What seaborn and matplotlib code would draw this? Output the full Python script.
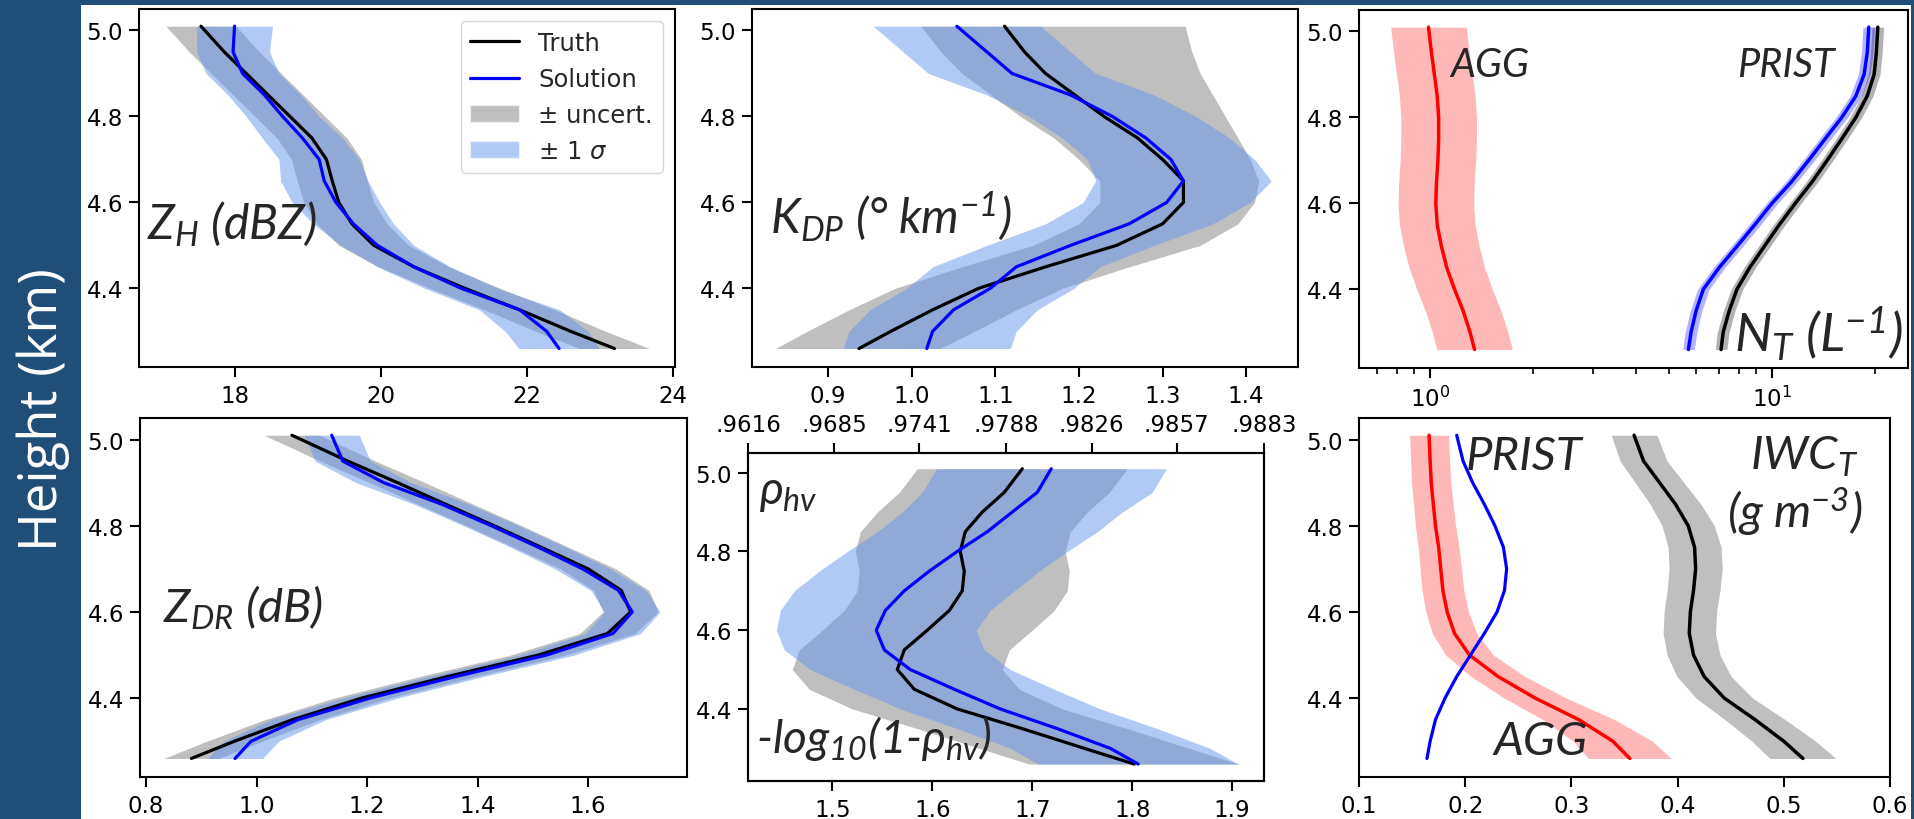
import numpy as np
import seaborn as sns
import matplotlib.pyplot as plt
from matplotlib.patches import Rectangle, Patch
from matplotlib.lines import Line2D
from matplotlib.ticker import NullFormatter

# height levels (km) shared by every profile
HEIGHT = [4.26, 4.30, 4.35, 4.40, 4.45, 4.50, 4.55, 4.60,
          4.65, 4.70, 4.75, 4.80, 4.85, 4.90, 4.95, 5.01]

# Z_H (dBZ)
ZH_TRUTH = [23.2, 22.6, 21.9, 21.15, 20.45, 19.9, 19.6, 19.42,
            19.33, 19.25, 19.05, 18.75, 18.45, 18.15, 17.85, 17.53]
ZH_SOL = [22.44, 22.27, 21.9, 21.1, 20.45, 19.95, 19.62, 19.38,
          19.22, 19.15, 18.92, 18.65, 18.4, 18.1, 17.97, 17.99]
ZH_SIGMA = [0.55, 0.57, 0.55, 0.5, 0.5, 0.5, 0.55, 0.6,
            0.6, 0.55, 0.55, 0.5, 0.5, 0.5, 0.5, 0.52]
ZH_UNC = 0.48

# K_DP (deg/km)
KDP_TRUTH = [0.937, 0.975, 1.025, 1.08, 1.16, 1.245, 1.30, 1.325,
             1.325, 1.30, 1.27, 1.23, 1.195, 1.16, 1.135, 1.111]
KDP_SOL = [1.018, 1.025, 1.05, 1.094, 1.125, 1.19, 1.26, 1.305,
           1.325, 1.31, 1.28, 1.24, 1.19, 1.12, 1.09, 1.054]
KDP_SIGMA = [0.1, 0.1, 0.1, 0.1, 0.1, 0.1, 0.1, 0.1,
             0.105, 0.1, 0.1, 0.1, 0.1, 0.1, 0.1, 0.1]
KDP_UNC = 0.1
# upper edge of the K_DP uncertainty band is wider aloft
KDP_UNC_UPPER = [1.034, 1.075, 1.125, 1.18, 1.26, 1.345, 1.39, 1.41,
                 1.415, 1.405, 1.39, 1.375, 1.36, 1.345, 1.335, 1.327]

# Z_DR (dB)
ZDR_TRUTH = [0.882, 0.96, 1.065, 1.19, 1.345, 1.51, 1.635, 1.677,
             1.66, 1.60, 1.515, 1.43, 1.342, 1.255, 1.165, 1.064]
ZDR_SOL = [0.961, 0.99, 1.075, 1.205, 1.36, 1.525, 1.645, 1.68,
           1.655, 1.59, 1.51, 1.425, 1.335, 1.23, 1.156, 1.136]
ZDR_SIGMA = [0.05, 0.05, 0.05, 0.05, 0.05, 0.05, 0.05, 0.05,
             0.05, 0.05, 0.05, 0.05, 0.05, 0.05, 0.05, 0.05]
ZDR_UNC = 0.05

# -log10(1 - rho_hv)
RHO_TRUTH = [1.802, 1.752, 1.69, 1.625, 1.582, 1.565, 1.572, 1.595,
             1.617, 1.63, 1.632, 1.628, 1.633, 1.65, 1.672, 1.69]
RHO_SOL = [1.806, 1.778, 1.725, 1.668, 1.622, 1.578, 1.552, 1.544,
           1.553, 1.572, 1.597, 1.625, 1.655, 1.68, 1.705, 1.719]
RHO_SIGMA = [0.1, 0.1, 0.1, 0.1, 0.1, 0.1, 0.1, 0.1,
             0.105, 0.11, 0.11, 0.11, 0.11, 0.11, 0.115, 0.115]
RHO_UNC = 0.105
RHO_TICKS = [0.9616, 0.9685, 0.9741, 0.9788, 0.9826, 0.9857, 0.9883]

# N_T (1/L)
NT_AGG = [1.35, 1.31, 1.25, 1.18, 1.12, 1.08, 1.05, 1.04,
          1.045, 1.055, 1.06, 1.06, 1.05, 1.03, 1.01, 0.99]
NT_PRIST_SOL = [5.7, 5.8, 6.0, 6.3, 7.0, 7.9, 8.9, 10.0,
                11.4, 12.8, 14.3, 16.0, 17.6, 18.6, 19.0, 19.2]
NT_PRIST_TRUTH = [7.1, 7.2, 7.5, 7.9, 8.6, 9.5, 10.5, 11.7,
                  13.1, 14.5, 16.0, 17.6, 19.0, 19.9, 20.2, 20.4]
NT_AGG_FACTOR = 1.29
NT_PRIST_FACTOR = 1.04

# IWC (g/m3)
IWC_AGG = [0.355, 0.339, 0.307, 0.266, 0.231, 0.204, 0.19, 0.183,
           0.179, 0.177, 0.175, 0.172, 0.17, 0.168, 0.167, 0.166]
IWC_PRIST = [0.164, 0.167, 0.172, 0.181, 0.192, 0.205, 0.218, 0.23,
             0.237, 0.239, 0.236, 0.228, 0.218, 0.207, 0.198, 0.192]
IWC_TOTAL = [0.518, 0.5, 0.473, 0.444, 0.425, 0.415, 0.411, 0.412,
             0.415, 0.417, 0.416, 0.41, 0.398, 0.383, 0.368, 0.359]
IWC_AGG_REL = 0.11
IWC_TOTAL_REL = 0.06

sns.set_theme(style='ticks')
plt.rcParams.update({
    'font.family': ['DejaVu Sans'],
    'mathtext.fontset': 'dejavusans',
    'mathtext.rm': 'Lato:italic',
    'mathtext.it': 'Lato:italic',
    'mathtext.bf': 'Lato:italic',
    'axes.edgecolor': 'black',
    'axes.linewidth': 1.5,
    'xtick.color': 'black', 'ytick.color': 'black',
    'xtick.major.size': 7.5, 'ytick.major.size': 7.5,
    'xtick.major.width': 1.5, 'ytick.major.width': 1.5,
    'xtick.minor.size': 4.5, 'xtick.minor.width': 1.2,
    'xtick.labelsize': 16.5, 'ytick.labelsize': 16.5,
    'xtick.major.pad': 5, 'ytick.major.pad': 4,
})

W, H = 1915, 820
fig = plt.figure(figsize=(W / 100, H / 100), dpi=100, facecolor='#1f4e79')
fig.add_artist(Rectangle((81 / W, 0), 1830 / W, 814 / H, transform=fig.transFigure,
                         facecolor='white', edgecolor='none', zorder=-1))


def box(x0, y0, x1, y1):
    return fig.add_axes([x0 / W, 1 - y1 / H, (x1 - x0) / W, (y1 - y0) / H])


axA = box(139, 10, 675, 368)
axB = box(752, 10, 1298, 368)
axC = box(1359, 11, 1908, 369)
axD = box(140, 419, 687, 778)
axE = box(748, 454, 1264, 782)
axF = box(1359, 419, 1890, 778)

h = np.array(HEIGHT)


def line(ax, x, color, lw=2.3):
    sns.lineplot(x=np.asarray(x), y=h, orient='y', color=color, lw=lw,
                 errorbar=None, ax=ax)


def retrieval(ax, truth, unc, sol, sigma, upper=None):
    t, s, sg = np.array(truth), np.array(sol), np.array(sigma)
    hi = t + unc if upper is None else np.array(upper)
    ax.fill_betweenx(h, t - unc, hi, color='gray', alpha=0.5, lw=0)
    ax.fill_betweenx(h, s - sg, s + sg, color='cornflowerblue', alpha=0.5, lw=0)
    line(ax, t, 'black')
    line(ax, s, 'blue')


def style(ax):
    ax.set_ylim(4.217, 5.05)
    ax.set_yticks([4.4, 4.6, 4.8, 5.0])
    ax.yaxis.set_major_formatter('{x:.1f}')
    ax.set_xlabel('')
    ax.set_ylabel('')


def label(ax, x, y, s, size, ha='left'):
    ax.text(x, y, s, transform=ax.transAxes, fontsize=size, family='Lato',
            style='italic', math_fontfamily='custom', ha=ha, va='baseline')


# Z_H
retrieval(axA, ZH_TRUTH, ZH_UNC, ZH_SOL, ZH_SIGMA)
style(axA)
axA.set_xlim(16.68, 24.03)
axA.set_xticks([18, 20, 22, 24])
label(axA, 0.015, 0.363, 'Z$_H$ (dBZ)', 34.5)
handles = [Line2D([], [], color='black', lw=2.3), Line2D([], [], color='blue', lw=2.3),
           Patch(facecolor='gray', alpha=0.5), Patch(facecolor='cornflowerblue', alpha=0.5)]
axA.legend(handles, ['Truth', 'Solution', '± uncert.', '± 1 $\\sigma$'],
           loc='upper right', fontsize=17.5)

# K_DP
retrieval(axB, KDP_TRUTH, KDP_UNC, KDP_SOL, KDP_SIGMA, upper=KDP_UNC_UPPER)
style(axB)
axB.set_xlim(0.809, 1.462)
axB.set_xticks([0.9, 1.0, 1.1, 1.2, 1.3, 1.4])
label(axB, 0.033, 0.377, 'K$_{DP}$ (° km$^{-1}$)', 34.5)

# N_T
axC.set_xscale('log')
agg, ps, pt = np.array(NT_AGG), np.array(NT_PRIST_SOL), np.array(NT_PRIST_TRUTH)
axC.fill_betweenx(h, agg / NT_AGG_FACTOR, agg * NT_AGG_FACTOR, color='red', alpha=0.28, lw=0)
axC.fill_betweenx(h, pt / NT_PRIST_FACTOR, pt * NT_PRIST_FACTOR, color='gray', alpha=0.6, lw=0)
axC.fill_betweenx(h, ps / NT_PRIST_FACTOR, ps * NT_PRIST_FACTOR, color='blue', alpha=0.3, lw=0)
line(axC, agg, 'red', 2.5)
line(axC, pt, 'black', 2.5)
line(axC, ps, 'blue', 2.5)
style(axC)
axC.set_xlim(0.62, 25.0)
axC.xaxis.set_minor_formatter(NullFormatter())
label(axC, 0.166, 0.816, 'AGG', 28.5)
label(axC, 0.689, 0.816, 'PRIST', 28.5)
label(axC, 0.99, 0.047, 'N$_T$ (L$^{-1}$)', 38, ha='right')

# Z_DR
retrieval(axD, ZDR_TRUTH, ZDR_UNC, ZDR_SOL, ZDR_SIGMA)
style(axD)
axD.set_xlim(0.789, 1.779)
axD.set_xticks([0.8, 1.0, 1.2, 1.4, 1.6])
label(axD, 0.042, 0.432, 'Z$_{DR}$ (dB)', 34)

# rho_hv
retrieval(axE, RHO_TRUTH, RHO_UNC, RHO_SOL, RHO_SIGMA)
style(axE)
rho_pos = [-np.log10(1 - r) for r in RHO_TICKS]
axE.set_xlim(rho_pos[0], rho_pos[-1])
axE.set_xticks([1.5, 1.6, 1.7, 1.8, 1.9])
top = axE.twiny()
top.set_xlim(axE.get_xlim())
top.set_xticks(rho_pos)
top.set_xticklabels(['.' + f'{r:.4f}'.split('.')[1] for r in RHO_TICKS])
label(axE, 0.021, 0.848, '$\\rho_{hv}$', 33)
label(axE, 0.015, 0.088, '-log$_{10}$(1-$\\rho_{hv}$)', 33)

# IWC
iwa, iwp, iwt = np.array(IWC_AGG), np.array(IWC_PRIST), np.array(IWC_TOTAL)
axF.fill_betweenx(h, iwa * (1 - IWC_AGG_REL), iwa * (1 + IWC_AGG_REL), color='red', alpha=0.28, lw=0)
axF.fill_betweenx(h, iwt * (1 - IWC_TOTAL_REL), iwt * (1 + IWC_TOTAL_REL), color='gray', alpha=0.5, lw=0)
line(axF, iwa, 'red', 2.5)
line(axF, iwp, 'blue', 2.3)
line(axF, iwt, 'black', 2.5)
style(axF)
axF.set_xlim(0.1, 0.6)
axF.set_xticks([0.1, 0.2, 0.3, 0.4, 0.5, 0.6])
label(axF, 0.2, 0.858, 'PRIST', 34)
label(axF, 0.736, 0.858, 'IWC$_T$', 34)
label(axF, 0.693, 0.696, '(g m$^{-3}$)', 34)
label(axF, 0.254, 0.064, 'AGG', 34)

fig.text(43 / W, 1 - 410 / H, 'Height (km)', rotation=90, color='white',
         fontsize=38, family='Open Sans', ha='center', va='center')

fig.savefig('out.png', dpi=100, facecolor=fig.get_facecolor())
